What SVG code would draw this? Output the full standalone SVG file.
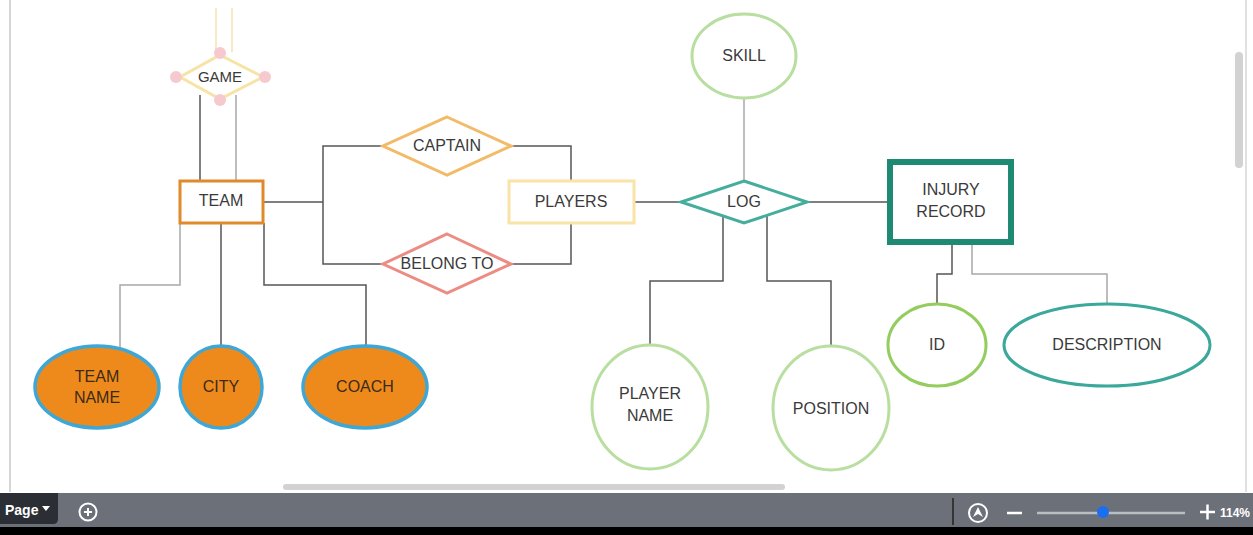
<svg xmlns="http://www.w3.org/2000/svg" width="1253" height="535" viewBox="0 0 1253 535">
<style>
.t{font-family:"Liberation Sans",Arial,sans-serif;font-size:16px;fill:#3a3a3a;text-anchor:middle}
.to{font-family:"Liberation Sans",Arial,sans-serif;font-size:16px;fill:#3b2a18;text-anchor:middle}
.c{fill:none;stroke:#555;stroke-width:1.5}
.cl{fill:none;stroke:#a8a8a8;stroke-width:1.5}
.cy{fill:none;stroke:#f3e2b0;stroke-width:1.5}
.orange{fill:#ee8a1c;stroke:#3fa7d6;stroke-width:3.5}
.green{fill:#fff;stroke:#b8dea0;stroke-width:3}
.ui{font-family:"Liberation Sans",Arial,sans-serif;font-weight:bold;fill:#fff}
</style>
<rect width="1253" height="535" fill="#fff"/>
<line x1="10" y1="0" x2="10" y2="492" stroke="#d6d6d6" stroke-width="2"/>
<line x1="1246" y1="0" x2="1246" y2="492" stroke="#d6d6d6" stroke-width="1.5"/>
<rect x="1235" y="52" width="8" height="116" rx="4" fill="#d2d2d2"/>
<rect x="283" y="484" width="502" height="6" rx="3" fill="#d2d2d2"/>

<g id="connectors">
  <line class="cy" x1="216" y1="8" x2="216" y2="52"/>
  <line class="cy" x1="232" y1="8" x2="232" y2="52"/>
  <line class="c" x1="200" y1="95" x2="200" y2="180"/>
  <line class="cl" x1="236" y1="95" x2="236" y2="180"/>
  <polyline class="c" points="263,202 323,202"/>
  <polyline class="c" points="385,146 323,146 323,264 385,264"/>
  <polyline class="c" points="510,146 571,146 571,180"/>
  <polyline class="c" points="510,264 571,264 571,223"/>
  <polyline class="c" points="634,202 681,202"/>
  <polyline class="cl" points="744,98 744,181"/>
  <polyline class="c" points="807,202 887,202"/>
  <polyline class="c" points="723,216 723,281 650,281 650,346"/>
  <polyline class="c" points="767,216 767,281 831,281 831,346"/>
  <polyline class="c" points="952,244 952,274 937,274 937,304"/>
  <polyline class="cl" points="972,244 972,274 1107,274 1107,303"/>
  <polyline class="cl" points="180,223 180,285 120,285 120,347"/>
  <polyline class="c" points="221,223 221,347"/>
  <polyline class="c" points="264,223 264,285 366,285 366,347"/>
</g>

<g id="game">
  <polygon points="220,55 263,77 220,99 180,77" fill="#fff" stroke="#f7e3a5" stroke-width="3"/>
  <circle cx="220" cy="53" r="6" fill="#f6c9cf"/>
  <circle cx="176" cy="77" r="6" fill="#f6c9cf"/>
  <circle cx="265" cy="77" r="6" fill="#f6c9cf"/>
  <circle cx="220" cy="100" r="6" fill="#f6c9cf"/>
  <text class="t" x="220" y="82" style="font-size:15px">GAME</text>
</g>

<g id="team">
  <rect x="180" y="181" width="83" height="42" fill="#fff" stroke="#e08a2a" stroke-width="3"/>
  <text class="t" x="221" y="206">TEAM</text>
</g>

<g id="captain">
  <polygon points="447,117 511,146 447,175 383,146" fill="#fff" stroke="#f2bb68" stroke-width="3"/>
  <text class="t" x="447" y="151">CAPTAIN</text>
</g>

<g id="belong-to">
  <polygon points="447,234 511,264 447,293 383,264" fill="#fff" stroke="#ec8d84" stroke-width="3"/>
  <text class="t" x="447" y="269">BELONG TO</text>
</g>

<g id="players">
  <rect x="509" y="181" width="125" height="42" fill="#fff" stroke="#f8e4a6" stroke-width="3"/>
  <text class="t" x="571" y="207">PLAYERS</text>
</g>

<g id="log">
  <polygon points="744,181 807,202 744,223 681,202" fill="#fff" stroke="#45ad9c" stroke-width="3"/>
  <text class="t" x="744" y="207">LOG</text>
</g>

<g id="skill">
  <ellipse cx="744" cy="56" rx="52" ry="42" class="green"/>
  <text class="t" x="744" y="61">SKILL</text>
</g>

<g id="injury-record">
  <rect x="890" y="162" width="121" height="80" fill="#fff" stroke="#1f8a72" stroke-width="6"/>
  <text class="t" x="951" y="195">INJURY</text>
  <text class="t" x="951" y="217">RECORD</text>
</g>

<g id="player-name">
  <ellipse cx="650" cy="407" rx="58" ry="62" class="green"/>
  <text class="t" x="650" y="399">PLAYER</text>
  <text class="t" x="650" y="421">NAME</text>
</g>

<g id="position">
  <ellipse cx="831" cy="408" rx="58" ry="62" class="green"/>
  <text class="t" x="831" y="414">POSITION</text>
</g>

<g id="id">
  <ellipse cx="937" cy="345" rx="49" ry="41" fill="#fff" stroke="#93cd5e" stroke-width="3"/>
  <text class="t" x="937" y="350">ID</text>
</g>

<g id="description">
  <ellipse cx="1107" cy="345" rx="103" ry="41" fill="#fff" stroke="#3aa89a" stroke-width="3"/>
  <text class="t" x="1107" y="350">DESCRIPTION</text>
</g>

<g id="team-name">
  <ellipse cx="97" cy="387" rx="62" ry="41" class="orange"/>
  <text class="to" x="97" y="382">TEAM</text>
  <text class="to" x="97" y="403">NAME</text>
</g>

<g id="city">
  <ellipse cx="221" cy="387" rx="41" ry="41" class="orange"/>
  <text class="to" x="221" y="392">CITY</text>
</g>

<g id="coach">
  <ellipse cx="365" cy="387" rx="62" ry="41" class="orange"/>
  <text class="to" x="365" y="392">COACH</text>
</g>

<g id="toolbar">
  <rect x="0" y="493" width="1253" height="34" fill="#6c7079"/>
  <rect x="0" y="527" width="1253" height="8" fill="#000"/>
  <path d="M0,493 H58 V519 Q58,524 53,524 H0 Z" fill="#2b2e35"/>
  <text class="ui" x="5" y="515" font-size="14">Page</text>
  <polygon points="42,506 50,506 46,511" fill="#fff"/>
  <circle cx="88" cy="512" r="8.5" fill="none" stroke="#fff" stroke-width="2"/>
  <line x1="84" y1="512" x2="92" y2="512" stroke="#fff" stroke-width="2"/>
  <line x1="88" y1="508" x2="88" y2="516" stroke="#fff" stroke-width="2"/>
  <line x1="953" y1="498" x2="953" y2="525" stroke="#222" stroke-width="1.5"/>
  <circle cx="978" cy="513" r="9" fill="none" stroke="#fff" stroke-width="2"/>
  <polygon points="978,507 983,517 978,514 973,517" fill="#fff"/>
  <line x1="1007" y1="513" x2="1022" y2="513" stroke="#fff" stroke-width="2.5"/>
  <line x1="1037" y1="513" x2="1185" y2="513" stroke="#b9bdc4" stroke-width="2.5"/>
  <circle cx="1103" cy="512" r="6" fill="#1a6ff0"/>
  <line x1="1200" y1="512" x2="1215" y2="512" stroke="#fff" stroke-width="2.5"/>
  <line x1="1207.5" y1="504.5" x2="1207.5" y2="519.5" stroke="#fff" stroke-width="2.5"/>
  <text class="ui" x="1220" y="517" font-size="12">114%</text>
</g>
</svg>
